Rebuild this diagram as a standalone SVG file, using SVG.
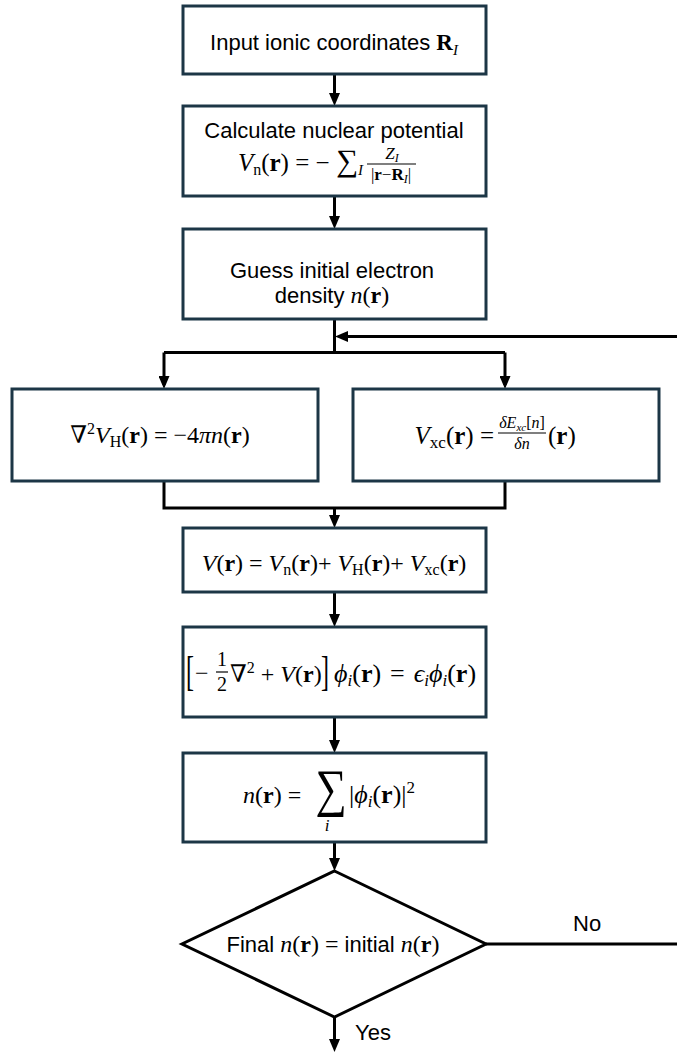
<svg xmlns="http://www.w3.org/2000/svg" width="677" height="1052" viewBox="0 0 677 1052">
<style>
.box{fill:#fff;stroke:#1c3646;stroke-width:3}
.con{fill:none;stroke:#000;stroke-width:3;stroke-linejoin:miter}
.arr{marker-end:url(#ah)}
.t{font-family:"Liberation Sans",Arial,sans-serif;font-size:22px;fill:#000}
.m{font-family:"Liberation Serif","DejaVu Serif",serif;fill:#000}
.i{font-style:italic}
.b{font-weight:bold}
.bar{stroke:#000;stroke-width:1.2}
</style>
<defs>
<marker id="ah" markerUnits="userSpaceOnUse" viewBox="0 0 13 11" refX="9" refY="5.5" markerWidth="13" markerHeight="11" orient="auto">
<path d="M0,0 L13,5.5 L0,11 z" fill="#000"/>
</marker>
</defs>
<rect width="677" height="1052" fill="#fff"/>
<g id="connectors">
<path class="con arr" d="M334.5,74 V102"/>
<path class="con arr" d="M334.5,196 V225"/>
<path class="con" d="M334.5,319 V352.5"/>
<path class="con" d="M164,352.5 H505"/>
<path class="con arr" d="M164,352.5 V385"/>
<path class="con arr" d="M505,352.5 V385"/>
<path class="con" d="M164,481 V508 H505 V481"/>
<path class="con arr" d="M334.5,508 V524"/>
<path class="con arr" d="M334.5,592 V623"/>
<path class="con arr" d="M334.5,717 V749"/>
<path class="con arr" d="M334.5,842 V867"/>
<path class="con arr" d="M334.5,1017 V1048"/>
<path class="con arr" d="M486,944 H682 V336.5 H339"/>
</g>
<g id="n1">
<rect class="box" x="183" y="6" width="303" height="68"/>
<text class="t" x="334" y="50" text-anchor="middle">Input ionic coordinates <tspan class="m b" font-size="23">R</tspan><tspan class="m i" font-size="15" dy="5">I</tspan></text>
</g>
<g id="n2">
<rect class="box" x="183" y="106" width="303" height="90"/>
<text class="t" x="334" y="138" text-anchor="middle">Calculate nuclear potential</text>
<text class="m" x="363" y="171" font-size="25" text-anchor="end"><tspan class="i">V</tspan><tspan font-size="16" dy="4">n</tspan><tspan dy="-4">(</tspan><tspan class="b">r</tspan>) = − <tspan font-size="31">∑</tspan><tspan class="i" font-size="15" dy="4">I</tspan></text>
<text class="m" x="392" y="159" font-size="17" text-anchor="middle"><tspan class="i">Z</tspan><tspan class="i" font-size="12" dy="3">I</tspan></text>
<line class="bar" x1="367" y1="164" x2="416" y2="164"/>
<text class="m" x="391" y="180" font-size="17" text-anchor="middle">|<tspan class="b">r</tspan>−<tspan class="b">R</tspan><tspan class="i" font-size="12" dy="3">I</tspan><tspan dy="-3">|</tspan></text>
</g>
<g id="n3">
<rect class="box" x="183" y="229" width="303" height="90"/>
<text class="t" x="332" y="278" text-anchor="middle">Guess initial electron</text>
<text class="t" x="332" y="303" text-anchor="middle">density <tspan class="m i" font-size="24">n</tspan><tspan class="m" font-size="24">(<tspan class="b">r</tspan>)</tspan></text>
</g>
<g id="n4">
<rect class="box" x="12" y="389" width="306" height="92"/>
<text class="m" x="160" y="443" font-size="24" text-anchor="middle">∇<tspan font-size="16" dy="-9">2</tspan><tspan class="i" dy="9">V</tspan><tspan font-size="16" dy="4">H</tspan><tspan dy="-4">(</tspan><tspan class="b">r</tspan>) = −4<tspan class="i">πn</tspan>(<tspan class="b">r</tspan>)</text>
</g>
<g id="n5">
<rect class="box" x="353" y="389" width="306" height="92"/>
<text class="m" x="494" y="444" font-size="25" text-anchor="end"><tspan class="i">V</tspan><tspan font-size="17" dy="4">xc</tspan><tspan dy="-4">(</tspan><tspan class="b">r</tspan>) =</text>
<text class="m" x="522" y="428" font-size="16" text-anchor="middle"><tspan class="i">δE</tspan><tspan class="i" font-size="11" dy="3">xc</tspan><tspan dy="-3">[</tspan><tspan class="i">n</tspan>]</text>
<line class="bar" x1="498" y1="433" x2="546" y2="433"/>
<text class="m i" x="522" y="449" font-size="16" text-anchor="middle">δn</text>
<text class="m" x="548" y="444" font-size="25">(<tspan class="b">r</tspan>)</text>
</g>
<g id="n6">
<rect class="box" x="183" y="528" width="303" height="64"/>
<text class="m" x="334" y="571" font-size="24" text-anchor="middle"><tspan class="i">V</tspan>(<tspan class="b">r</tspan>) = <tspan class="i">V</tspan><tspan font-size="16" dy="4">n</tspan><tspan dy="-4">(</tspan><tspan class="b">r</tspan>)+ <tspan class="i">V</tspan><tspan font-size="16" dy="4">H</tspan><tspan dy="-4">(</tspan><tspan class="b">r</tspan>)+ <tspan class="i">V</tspan><tspan font-size="16" dy="4">xc</tspan><tspan dy="-4">(</tspan><tspan class="b">r</tspan>)</text>
</g>
<g id="n7">
<rect class="box" x="183" y="627" width="303" height="90"/>
<text class="m" font-size="24" transform="translate(186,685) scale(1,1.75)">[</text>
<text class="m" x="195" y="681" font-size="24">−</text>
<text class="m" x="222" y="666" font-size="20" text-anchor="middle">1</text>
<line class="bar" x1="216" y1="672" x2="228" y2="672"/>
<text class="m" x="222" y="691" font-size="20" text-anchor="middle">2</text>
<text class="m" x="230" y="682" font-size="24">∇<tspan font-size="16" dy="-9">2</tspan><tspan dy="9"> + </tspan><tspan class="i">V</tspan>(<tspan class="b">r</tspan>)</text>
<text class="m" font-size="24" transform="translate(321,685) scale(1,1.75)">]</text>
<text class="m" x="334" y="682" font-size="26"><tspan class="i">ϕ</tspan><tspan class="i" font-size="17" dy="4">i</tspan><tspan dy="-4">(</tspan><tspan class="b">r</tspan>)<tspan dx="9">=</tspan><tspan class="i" dx="9">ϵ</tspan><tspan class="i" font-size="17" dy="4">i</tspan><tspan class="i" dy="-4">ϕ</tspan><tspan class="i" font-size="17" dy="4">i</tspan><tspan dy="-4">(</tspan><tspan class="b">r</tspan>)</text>
</g>
<g id="n8">
<rect class="box" x="183" y="753" width="303" height="89"/>
<text class="m" x="243" y="803" font-size="24"><tspan class="i">n</tspan>(<tspan class="b">r</tspan>) =</text>
<text class="m" font-size="44" text-anchor="middle" transform="translate(331,806) scale(1,1.2)">∑</text>
<text class="m i" x="327" y="831" font-size="17" text-anchor="middle">i</text>
<text class="m" x="349" y="803" font-size="26">|<tspan class="i">ϕ</tspan><tspan class="i" font-size="17" dy="4">i</tspan><tspan dy="-4">(</tspan><tspan class="b">r</tspan>)|<tspan font-size="17" dy="-10">2</tspan></text>
</g>
<g id="n9">
<polygon points="334.5,871 486,944 334.5,1017 182,944" fill="#fff" stroke="#000" stroke-width="3"/>
<text class="t" x="333" y="952" text-anchor="middle">Final <tspan class="m i" font-size="24">n</tspan><tspan class="m" font-size="24">(<tspan class="b">r</tspan>) = </tspan>initial <tspan class="m i" font-size="24">n</tspan><tspan class="m" font-size="24">(<tspan class="b">r</tspan>)</tspan></text>
</g>
<g id="labels">
<text class="t" x="573" y="931" font-size="21">No</text>
<text class="t" x="355" y="1040" font-size="21">Yes</text>
</g>
</svg>
